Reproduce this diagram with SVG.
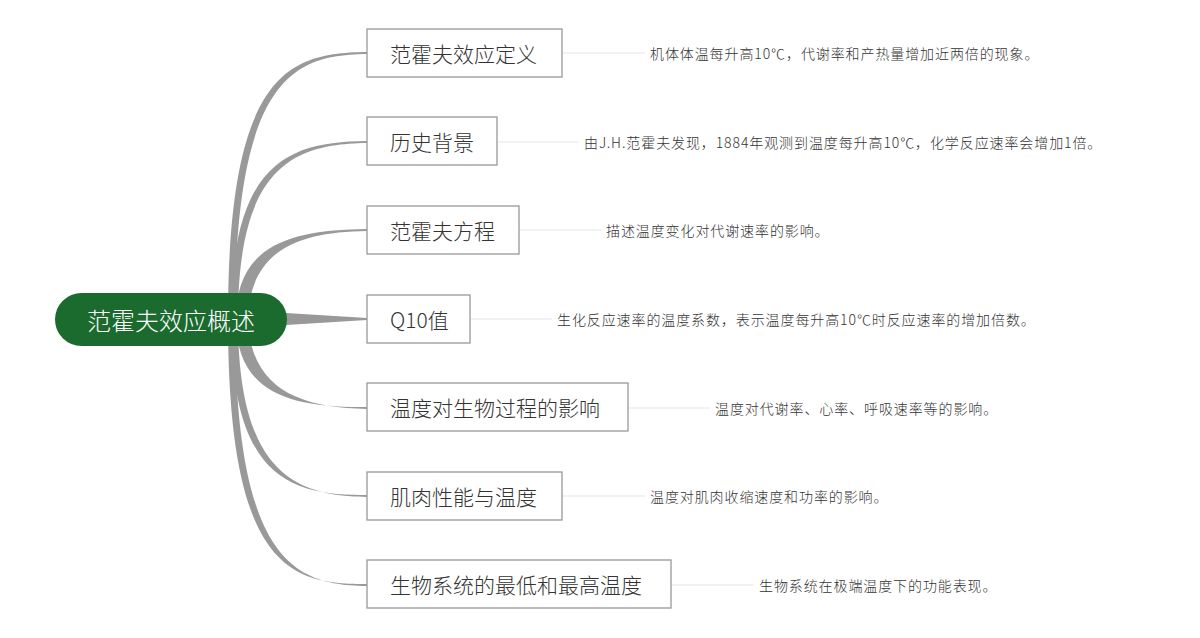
<svg xmlns="http://www.w3.org/2000/svg" width="1200" height="638" viewBox="0 0 1200 638">
<style>
.box{fill:#fff;stroke:#999;stroke-width:1.3}
.bt{font-family:"Noto Sans CJK SC","Liberation Sans",sans-serif;font-size:21px;font-weight:300;fill:#333;dominant-baseline:central}
.dt{font-family:"Noto Sans CJK SC","Liberation Sans",sans-serif;font-size:14px;font-weight:300;letter-spacing:0.9px;fill:#333;dominant-baseline:central}
.br{fill:#999}
.ln{stroke:#e6e6e6;stroke-width:1.2;fill:none}
</style>
<rect width="1200" height="638" fill="#fff"/>
<g id="connectors">
<path class="br" d="M228 319 C228 70 290 53 367 52 L367 54 C295 55 235 75 235 319 Z"/>
<path class="br" d="M231 319 C231 160 290 142 367 141 L367 143 C295 144 238 165 238 319 Z"/>
<path class="br" d="M236 319 C236 245 290 230 367 229 L367 231 C298 232 250 250 248 319 Z"/>
<path class="br" d="M270 312 L367 318 L367 320 L270 326 Z"/>
<path class="br" d="M236 319 C236 393 290 408 367 407 L367 409 C298 408 250 388 248 319 Z"/>
<path class="br" d="M231 319 C231 478 290 496 367 495 L367 497 C295 496 238 473 238 319 Z"/>
<path class="br" d="M228 319 C228 568 290 585 367 584 L367 586 C295 585 235 563 235 319 Z"/>
<path class="ln" d="M562 53 H645 M497 142 H579 M519 230 H601 M470 319 H552 M628 408 H710 M562 496 H645 M671 585 H754"/>
</g>
<g id="root"><rect x="55" y="293" width="232" height="53" rx="26.5" fill="#1b6b2f"/><text x="171" y="319.5" text-anchor="middle" style="font-family:'Noto Sans CJK SC',sans-serif;font-size:24px;font-weight:300;fill:#fff;dominant-baseline:central">范霍夫效应概述</text></g>
<g id="n1"><rect class="box" x="367" y="29" width="195" height="48"/><text class="bt" x="390" y="53">范霍夫效应定义</text><text class="dt" x="650" y="53">机体体温每升高10℃，代谢率和产热量增加近两倍的现象。</text></g>
<g id="n2"><rect class="box" x="367" y="117" width="130" height="48"/><text class="bt" x="390" y="141">历史背景</text><text class="dt" x="584" y="142">由J.H.范霍夫发现，1884年观测到温度每升高10℃，化学反应速率会增加1倍。</text></g>
<g id="n3"><rect class="box" x="367" y="206" width="152" height="48"/><text class="bt" x="390" y="230">范霍夫方程</text><text class="dt" x="606" y="230">描述温度变化对代谢速率的影响。</text></g>
<g id="n4"><rect class="box" x="367" y="295" width="103" height="48"/><text class="bt" x="390" y="319">Q10值</text><text class="dt" x="557" y="319">生化反应速率的温度系数，表示温度每升高10℃时反应速率的增加倍数。</text></g>
<g id="n5"><rect class="box" x="367" y="383" width="261" height="48"/><text class="bt" x="390" y="407">温度对生物过程的影响</text><text class="dt" x="715" y="408">温度对代谢率、心率、呼吸速率等的影响。</text></g>
<g id="n6"><rect class="box" x="367" y="472" width="195" height="48"/><text class="bt" x="390" y="496">肌肉性能与温度</text><text class="dt" x="650" y="496">温度对肌肉收缩速度和功率的影响。</text></g>
<g id="n7"><rect class="box" x="367" y="560" width="304" height="48"/><text class="bt" x="390" y="584">生物系统的最低和最高温度</text><text class="dt" x="759" y="585">生物系统在极端温度下的功能表现。</text></g>
</svg>
